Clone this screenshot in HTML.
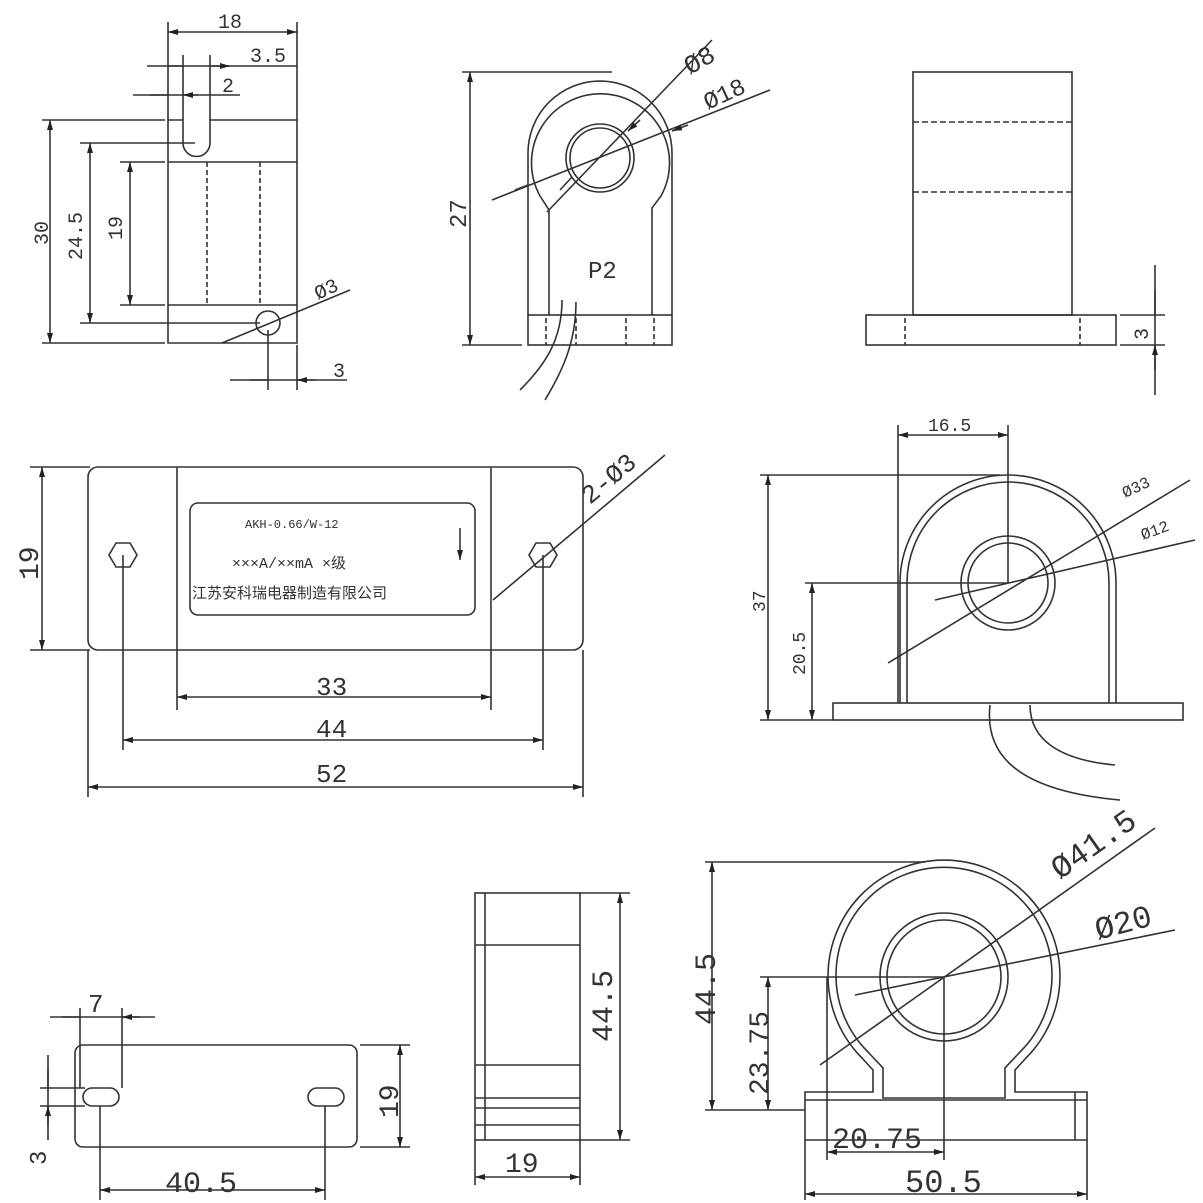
<!DOCTYPE html>
<html><head><meta charset="utf-8"><style>
html,body{margin:0;padding:0;background:#fff}
svg{display:block}
text{font-family:"Liberation Mono","Noto Sans CJK SC",monospace;fill:#333}
</style></head><body>
<svg width="1203" height="1203" viewBox="0 0 1203 1203" xmlns="http://www.w3.org/2000/svg">
<defs>
<marker id="a" viewBox="0 0 10 6" refX="10" refY="3" markerWidth="10" markerHeight="6" orient="auto-start-reverse" markerUnits="userSpaceOnUse"><path d="M0,0L10,3L0,6z" fill="#222"/></marker>
</defs>
<g stroke="#333" stroke-width="1.6" fill="none">
<!-- VIEW 1 -->
<path d="M168,120H183V143A13.5,13.5 0 0 0 210,143V120H297V343H168Z"/>
<path d="M168,162H297M168,305H297"/>
<path d="M207,162V305M260,162V305" stroke-dasharray="5,3"/>
<circle cx="268" cy="323" r="12"/>
<path d="M168,22V120M297,22V120M183,55V120M210,55V120"/>
<path d="M168,32H297" marker-start="url(#a)" marker-end="url(#a)"/>
<path d="M147,66H297"/><path d="M168,66H183M210,66H230" marker-end="url(#a)"/>
<path d="M133,95H240"/><path d="M150,95H168M198,95H183" marker-end="url(#a)"/>
<path d="M42,120H165M80,143H195M120,162H165M120,305H165M80,323H260M42,343H165"/>
<path d="M50,120V343" marker-start="url(#a)" marker-end="url(#a)"/>
<path d="M90,143V323" marker-start="url(#a)" marker-end="url(#a)"/>
<path d="M130,162V305" marker-start="url(#a)" marker-end="url(#a)"/>
<path d="M222,343L350,290"/>
<path d="M268,330V390M297,345V390M230,380H347"/>
<path d="M250,380H268M315,380H297" marker-end="url(#a)"/>
<!-- VIEW 2 -->
<path d="M528,315V153A72,72 0 0 1 672,153V315"/>
<path d="M549,315V210L540,196A69,69 0 1 1 661,196L652,208V315"/>
<circle cx="600" cy="158" r="34"/><circle cx="600" cy="158" r="30"/>
<rect x="528" y="315" width="144" height="30"/>
<path d="M546,318V345M576,318V345M626,318V345M654,318V345" stroke-dasharray="5,3"/>
<path d="M462,72H612M462,345H522"/>
<path d="M470,72V345" marker-start="url(#a)" marker-end="url(#a)"/>
<path d="M547,212L712,40M492,200L770,90"/>
<path d="M560,190L572,177M640,120L628,131" marker-end="url(#a)"/>
<path d="M515,190L528,185M688,125L672,131" marker-end="url(#a)"/>
<path d="M562,300C562,340 545,365 520,390M576,302C576,345 560,375 545,400"/>
<!-- VIEW 3 -->
<rect x="913" y="72" width="159" height="243"/>
<path d="M913,122H1072M913,192H1072" stroke-dasharray="6,3"/>
<rect x="866" y="315" width="250" height="30"/>
<path d="M905,318V345M1080,318V345" stroke-dasharray="5,3"/>
<path d="M1120,315H1165M1120,345H1165M1155,265V395"/>
<path d="M1155,290V315M1155,370V345" marker-end="url(#a)"/>
<!-- VIEW 4 -->
<rect x="88" y="467" width="495" height="183" rx="10"/>
<path d="M177,467V710M491,467V710"/>
<rect x="190" y="503" width="285" height="112" rx="8"/>
<polygon points="109,555 116,543 130,543 137,555 130,567 116,567"/>
<polygon points="529,555 536,543 550,543 557,555 550,567 536,567"/>
<path d="M123,555V750M543,555V750M88,650V797M583,650V797"/>
<path d="M30,467H90M30,650H90"/>
<path d="M42,467V650" marker-start="url(#a)" marker-end="url(#a)"/>
<path d="M177,697H491" marker-start="url(#a)" marker-end="url(#a)"/>
<path d="M123,740H543" marker-start="url(#a)" marker-end="url(#a)"/>
<path d="M88,787H583" marker-start="url(#a)" marker-end="url(#a)"/>
<path d="M493,600L665,455"/>
<path d="M460,528V560" marker-end="url(#a)"/>
<!-- VIEW 5 -->
<path d="M900,703V583A108,108 0 0 1 1116,583V703"/>
<path d="M907,703V583A101,101 0 0 1 1109,583V703"/>
<circle cx="1008" cy="583" r="47"/><circle cx="1008" cy="583" r="40"/>
<rect x="833" y="703" width="350" height="17"/>
<path d="M898,425V703M1008,425V583M760,475H1000M805,583H1008M760,720H833"/>
<path d="M898,435H1008" marker-start="url(#a)" marker-end="url(#a)"/>
<path d="M768,475V720" marker-start="url(#a)" marker-end="url(#a)"/>
<path d="M812,583V720" marker-start="url(#a)" marker-end="url(#a)"/>
<path d="M888,663L1190,480M935,600L1195,540"/>
<path d="M990,705C985,750 1010,790 1120,800M1030,705C1030,740 1060,760 1115,765"/>
<!-- VIEW 6 -->
<rect x="75" y="1045" width="282" height="102" rx="8"/>
<rect x="83" y="1088" width="36" height="18" rx="9"/>
<rect x="308" y="1088" width="36" height="18" rx="9"/>
<path d="M80,1008V1088M122,1008V1088M50,1017H155"/>
<path d="M62,1017H80M140,1017H122" marker-end="url(#a)"/>
<path d="M360,1045H410M360,1147H410"/>
<path d="M400,1045V1147" marker-start="url(#a)" marker-end="url(#a)"/>
<path d="M40,1088H85M40,1106H85M48,1055V1140"/>
<path d="M48,1070V1088M48,1125V1106" marker-end="url(#a)"/>
<path d="M100,1106V1200M325,1106V1200"/>
<path d="M100,1190H325" marker-start="url(#a)" marker-end="url(#a)"/>
<!-- VIEW 7 -->
<rect x="475" y="893" width="105" height="247"/>
<path d="M485,893V1140M475,945H580M475,1065H580M475,1098H580M475,1108H580M475,1125H580"/>
<path d="M580,893H630M580,1140H630"/>
<path d="M620,893V1140" marker-start="url(#a)" marker-end="url(#a)"/>
<path d="M475,1140V1185M580,1140V1185"/>
<path d="M475,1177H580" marker-start="url(#a)" marker-end="url(#a)"/>
<!-- VIEW 8 -->
<path d="M873,1070L862,1058A116,116 0 1 1 1026,1058L1015,1070V1092H1087V1140H805V1092H873Z"/>
<path d="M883,1098V1068L868,1052A108,108 0 1 1 1020,1052L1005,1068V1098Z"/>
<circle cx="944" cy="977" r="64"/><circle cx="944" cy="977" r="57"/>
<path d="M805,1100H1087M1075,1092V1140"/>
<path d="M705,862H925M760,977H944M705,1110H805"/>
<path d="M712,862V1110" marker-start="url(#a)" marker-end="url(#a)"/>
<path d="M768,977V1110" marker-start="url(#a)" marker-end="url(#a)"/>
<path d="M827,977V1160M944,977V1160M805,1140V1200M1087,1140V1200"/>
<path d="M827,1152H944" marker-start="url(#a)" marker-end="url(#a)"/>
<path d="M805,1194H1087" marker-start="url(#a)" marker-end="url(#a)"/>
<path d="M820,1065L1155,828M855,995L1175,930"/>
</g>
<!-- TEXT -->
<g font-size="20">
<text x="218" y="28">18</text>
<text x="250" y="62">3.5</text>
<text x="222" y="92">2</text>
<text transform="translate(48,245) rotate(-90)">30</text>
<text transform="translate(82,260) rotate(-90)">24.5</text>
<text transform="translate(122,240) rotate(-90)">19</text>
<text transform="translate(318,300) rotate(-25)">Ø3</text>
<text x="333" y="377">3</text>
<text font-size="26" transform="translate(690,75) rotate(-30)">Ø8</text>
<text font-size="24" transform="translate(708,110) rotate(-25)">Ø18</text>
<text x="588" y="278" font-size="24">P2</text>
<text font-size="24" transform="translate(466,228) rotate(-90)">27</text>
<text transform="translate(1148,340) rotate(-90)">3</text>
<text font-size="28" transform="translate(38,580) rotate(-90)">19</text>
<text font-size="26" transform="translate(590,505) rotate(-40)">2-Ø3</text>
<text x="316" y="695" font-size="26">33</text>
<text x="316" y="737" font-size="26">44</text>
<text x="316" y="782" font-size="26">52</text>
<text x="245" y="528" font-size="12">AKH-0.66/W-12</text>
<text x="232" y="568" font-size="15">×××A/××mA ×级</text>
<text x="192" y="598" font-size="15">江苏安科瑞电器制造有限公司</text>
<text x="928" y="431" font-size="18">16.5</text>
<text font-size="16" transform="translate(1125,498) rotate(-25)">Ø33</text>
<text font-size="16" transform="translate(1143,540) rotate(-20)">Ø12</text>
<text font-size="18" transform="translate(765,612) rotate(-90)">37</text>
<text font-size="18" transform="translate(805,675) rotate(-90)">20.5</text>
<text x="88" y="1012" font-size="26">7</text>
<text font-size="28" transform="translate(398,1118) rotate(-90)">19</text>
<text font-size="24" transform="translate(46,1165) rotate(-90)">3</text>
<text x="165" y="1192" font-size="30">40.5</text>
<text font-size="30" transform="translate(612,1042) rotate(-90)">44.5</text>
<text x="505" y="1172" font-size="28">19</text>
<text font-size="30" transform="translate(715,1025) rotate(-90)">44.5</text>
<text font-size="28" transform="translate(768,1095) rotate(-90)">23.75</text>
<text x="832" y="1148" font-size="30">20.75</text>
<text x="905" y="1192" font-size="32">50.5</text>
<text font-size="32" transform="translate(1060,880) rotate(-35)">Ø41.5</text>
<text font-size="32" transform="translate(1098,940) rotate(-15)">Ø20</text>
</g>
</svg>
</body></html>
